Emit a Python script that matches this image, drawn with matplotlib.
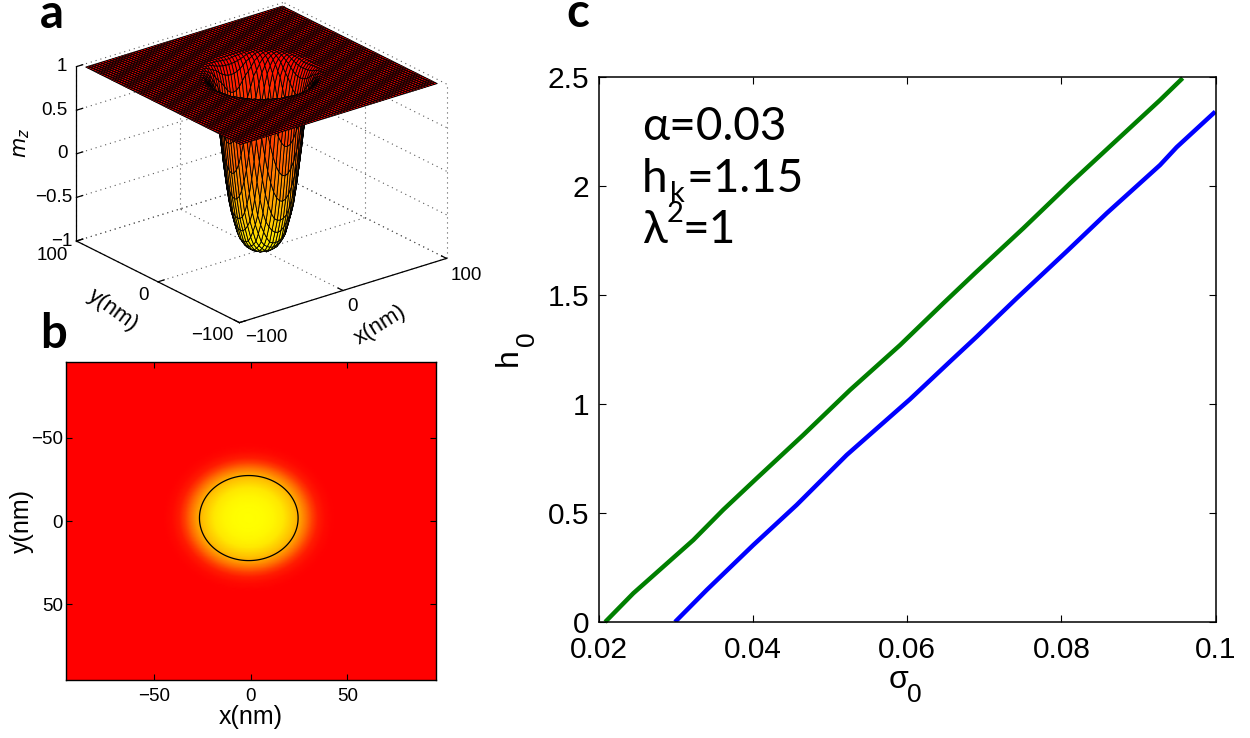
import numpy as np
import matplotlib
matplotlib.use('Agg')
import matplotlib.pyplot as plt
from mpl_toolkits.mplot3d import proj3d

W, H = 1250, 738

radius = [0, 8, 13, 18, 24, 27, 30, 33, 36, 40, 44, 48, 140]
mz_profile = [-1, -0.98, -0.93, -0.82, -0.5, -0.22, 0.12, 0.5, 0.78, 0.93, 0.99, 1, 1]
contour_level = [-0.36]

# panel c curves
green_x = [0.0208, 0.02445, 0.03224, 0.03613, 0.04046, 0.04651, 0.05257, 0.05906, 0.06468, 0.06879,
           0.07506, 0.08112, 0.08674, 0.0928, 0.09574]
green_y = [0, 0.1316, 0.376, 0.515, 0.659, 0.858, 1.064, 1.27, 1.462, 1.6, 1.806, 2.012, 2.196, 2.394, 2.495]
blue_x = [0.02986, 0.03398, 0.04002, 0.04565, 0.05214, 0.06036, 0.06577, 0.06902, 0.0742, 0.08069,
          0.08588, 0.0928, 0.09496, 0.09997]
blue_y = [0, 0.147, 0.353, 0.537, 0.766, 1.022, 1.202, 1.309, 1.485, 1.70, 1.875, 2.096, 2.178, 2.341]

xticks_a = [-100, 0, 100]
yticks_a = [-100, 0, 100]
zticks_a = [-1, -0.5, 0, 0.5, 1]
zlabels_a = ['\u22121', '\u22120.5', '0', '0.5', '1']
ticks_b = [-50, 0, 50]
xticks_c = [0.02, 0.04, 0.06, 0.08, 0.1]
xlabels_c = ['0.02', '0.04', '0.06', '0.08', '0.1']
yticks_c = [0, 0.5, 1, 1.5, 2, 2.5]
ylabels_c = ['0', '0.5', '1', '1.5', '2', '2.5']

plt.rcParams['font.family'] = 'Liberation Sans'


def fig_axes(left, top, right, bottom, **kw):
    return fig.add_axes([left / W, 1 - bottom / H, (right - left) / W, (bottom - top) / H], **kw)


def pix_text(px, py, s, **kw):
    fig.text(px / W, 1 - py / H, s, **kw)


fig = plt.figure(figsize=(W / 100, H / 100), dpi=100)

# ---- panel a
ax3 = fig.add_axes([53 / W, 1 - 371 / H, 406 / W, 406 / H], projection='3d', proj_type='ortho')
ax3.set_box_aspect((1, 1, 0.72))
ax3.view_init(elev=23.2, azim=-128.2)
ax3.set_axis_off()
ax3.computed_zorder = False
ax3.set_xlim(-100, 100)
ax3.set_ylim(-100, 100)
ax3.set_zlim(-1, 1)

grid = np.linspace(-95, 95, 67)
X, Y = np.meshgrid(grid, grid)
Z = np.interp(np.hypot(X, Y), radius, mz_profile)

# dotted box grid on the two back walls and the floor
dot = dict(color='0.35', lw=0.8, ls=(0, (1, 3.5)), zorder=1)
for t in xticks_a:
    ax3.plot([t, t], [-100, 100], [-1, -1], **dot)
    ax3.plot([t, t], [100, 100], [-1, 1], **dot)
for t in yticks_a:
    ax3.plot([-100, 100], [t, t], [-1, -1], **dot)
    ax3.plot([100, 100], [t, t], [-1, 1], **dot)
for t in zticks_a:
    ax3.plot([-100, 100], [100, 100], [t, t], **dot)
    ax3.plot([100, 100], [-100, 100], [t, t], **dot)

ax3.plot_surface(X, Y, Z, rstride=1, cstride=1, cmap='autumn_r', vmin=-1, vmax=1,
                 edgecolor='k', linewidth=0.6, shade=False, zorder=2)

solid = dict(color='k', lw=0.9, zorder=3)
ax3.plot([-100, 100], [-100, -100], [-1, -1], **solid)
ax3.plot([-100, -100], [-100, 100], [-1, -1], **solid)
ax3.plot([-100, -100], [100, 100], [-1, 1], **solid)
for t in xticks_a:
    ax3.plot([t, t], [-100, -94], [-1, -1], **solid)
for t in yticks_a:
    ax3.plot([-100, -94], [t, t], [-1, -1], **solid)
for t in zticks_a:
    ax3.plot([-100, -94], [100, 100], [t, t], **solid)


def label3d(x, y, z, s, dx, dy, ha='center'):
    x2, y2, _ = proj3d.proj_transform(x, y, z, ax3.get_proj())
    ax3.annotate(s, (x2, y2), xytext=(dx, -dy), textcoords='offset pixels', annotation_clip=False,
                 ha=ha, va='center', fontsize=13.5)


for t, s, dx, dy in zip(xticks_a, ['\u2212100', '0', '100'], [27, 10, 20], [15, 16, 17]):
    label3d(t, -100, -1, s, dx, dy)
for t, s, dx, dy in zip(yticks_a, ['\u2212100', '0', '100'], [-27, -14, -24], [13, 14, 14]):
    label3d(-100, t, -1, s, dx, dy)
for t, s, dx in zip(zticks_a, zlabels_a, [-4, -4, -9, -9, -9]):
    label3d(-100, 100, t, s, dx, 0, ha='right')

pix_text(380, 325, 'x(nm)', fontsize=16, rotation=32, ha='center', va='center')
pix_text(113, 310, 'y(nm)', fontsize=16, rotation=-36, ha='center', va='center')
pix_text(22, 143, r'$\mathit{m_z}$', fontsize=15, rotation=90, ha='center', va='center',
         math_fontfamily='dejavusans')

# ---- panel b
ax_b = fig_axes(66, 362.3, 436, 680)
xb = np.linspace(-95.8, 95.8, 400)
yb = np.linspace(-95.3, 95.3, 400)
XB, YB = np.meshgrid(xb, yb)
ZB = np.interp(np.hypot(XB + 1, YB + 1.8), radius, mz_profile)
ax_b.pcolormesh(XB, YB, ZB, cmap='autumn_r', vmin=-1, vmax=1, shading='gouraud', rasterized=True)
ax_b.contour(XB, YB, ZB, levels=contour_level, colors='k', linewidths=0.9, linestyles='solid')
ax_b.set_xlim(-95.5, 95.8)
ax_b.set_ylim(95.3, -95.2)
ax_b.set_xticks(ticks_b)
ax_b.set_yticks(ticks_b)
ax_b.set_xticklabels(['\u221250', '0', '50'])
ax_b.set_yticklabels(['\u221250', '0', '50'])
ax_b.tick_params(direction='in', top=True, right=True, length=4, width=0.8, labelsize=13.5)
ax_b.tick_params(axis='x', pad=6)
ax_b.tick_params(axis='y', pad=2)
ax_b.set_xlabel('x(nm)', fontsize=18, labelpad=0)
ax_b.set_ylabel('y(nm)', fontsize=18, labelpad=-2)
for sp in ax_b.spines.values():
    sp.set_linewidth(1.0)

# ---- panel c
ax_c = fig_axes(599, 77, 1215.5, 622)
ax_c.plot(green_x, green_y, color='#007f00', lw=3.2, solid_capstyle='butt', clip_on=False)
ax_c.plot(blue_x, blue_y, color='#0000ff', lw=3.2, solid_capstyle='butt')
ax_c.set_xlim(0.02, 0.1)
ax_c.set_ylim(0, 2.5)
ax_c.set_xticks(xticks_c)
ax_c.set_xticklabels(xlabels_c)
ax_c.set_yticks(yticks_c)
ax_c.set_yticklabels(ylabels_c)
ax_c.tick_params(direction='in', top=True, right=True, length=5, width=0.8, labelsize=21.5)
ax_c.tick_params(axis='x', pad=10)
ax_c.tick_params(axis='y', pad=7)
for sp in ax_c.spines.values():
    sp.set_linewidth(1.1)

pix_text(509, 357, 'h', fontsize=23, rotation=90, ha='center', va='center')
pix_text(527, 339, '0', fontsize=19, rotation=90, ha='center', va='center')
pix_text(898, 680, '\u03c3', fontsize=23, ha='center', va='center')
pix_text(914, 695, '0', fontsize=19, ha='center', va='center')

ann = dict(family='Lato', fontsize=33, color='k', va='baseline')
small = dict(family='Lato', fontsize=21, color='k', va='baseline')
pix_text(642, 140, '\u03b1=0.03', **ann)
pix_text(642, 192, 'h', **ann)
pix_text(670, 202, 'k', **small)
pix_text(686, 192, '=1.15', **ann)
pix_text(642, 243, '\u03bb', **ann)
pix_text(667, 222, '2', **small)
pix_text(683, 243, '=1', **ann)

# panel letters
letter = dict(family='Lato', fontweight='bold', fontsize=34, va='baseline')
pix_text(40, 28, 'a', **letter)
pix_text(40, 348, 'b', **letter)
pix_text(566, 27, 'c', **letter)

fig.savefig('out.png', dpi=100)
